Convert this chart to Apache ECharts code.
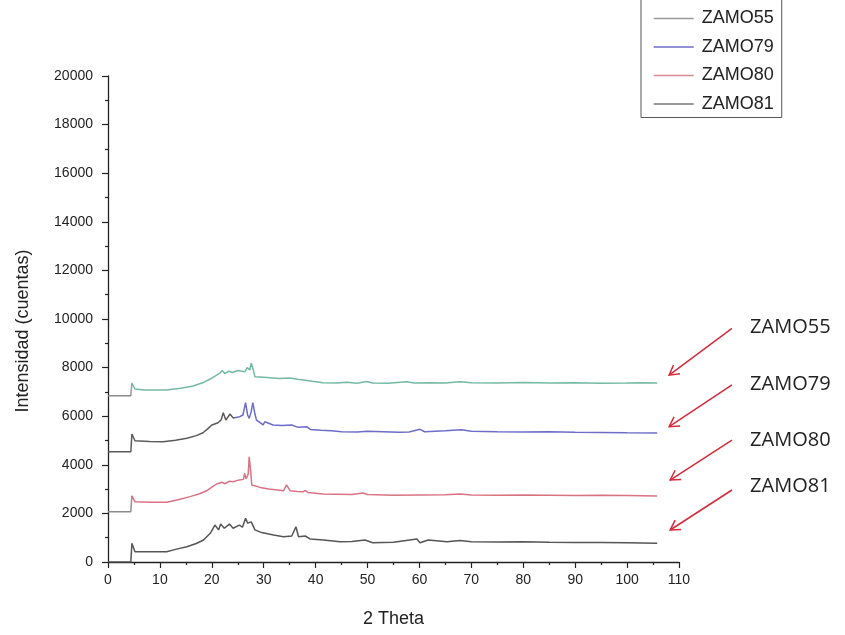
<!DOCTYPE html>
<html>
<head>
<meta charset="utf-8">
<script src="https://cdn.jsdelivr.net/npm/echarts@6/dist/echarts.min.js"></script>
<style>
  html, body { margin: 0; padding: 0; background: #fff; }
  #chart { width: 845px; height: 635px; }
</style>
</head>
<body>
<div id="chart"></div>
<script>
// XRD patterns (2θ in degrees, intensity in counts), each sample offset vertically
const seriesNames = ['ZAMO55', 'ZAMO79', 'ZAMO80', 'ZAMO81'];

const theta55 = [0, 4.4, 4.6, 5.2, 7, 11.3, 14, 16.4, 18.5, 19.7, 21, 21.6, 22.0, 22.5, 23.3, 24, 25, 26.4, 26.8, 27.3, 27.6, 28.0, 28.3, 30, 31.8, 33, 35, 36.5, 38, 38.3, 39, 41.4, 44, 46, 48, 49.8, 51, 54, 57.5, 59, 62, 65, 67.8, 70, 75, 80, 85, 90, 95, 100, 103, 105.8];
const int55 = [6840, 6840, 7360, 7120, 7080, 7080, 7150, 7240, 7400, 7530, 7700, 7780, 7880, 7760, 7850, 7800, 7880, 7830, 8000, 7900, 8180, 7900, 7620, 7600, 7570, 7550, 7570, 7520, 7480, 7540, 7450, 7380, 7370, 7400, 7360, 7430, 7370, 7360, 7420, 7370, 7380, 7370, 7420, 7380, 7370, 7390, 7370, 7380, 7360, 7370, 7380, 7370];

const theta79 = [0, 4.4, 4.6, 5.2, 8, 10.6, 13, 15.2, 17, 18.3, 19.2, 20, 21.2, 21.8, 22.2, 22.7, 23.5, 24.1, 25.4, 26.0, 26.5, 26.9, 27.2, 27.6, 27.9, 28.3, 28.6, 29.9, 30.2, 31.8, 33.5, 35.4, 35.7, 36.5, 38.3, 39, 41, 43, 45, 48, 50, 53, 56, 58, 60.1, 61, 63, 65, 68.1, 70, 75, 80, 85, 90, 95, 100, 105.8];
const int79 = [4540, 4540, 5270, 4990, 4960, 4950, 5010, 5090, 5200, 5320, 5480, 5640, 5730, 5850, 6140, 5840, 6090, 5930, 5980, 6050, 6560, 6050, 5910, 6200, 6560, 6100, 5840, 5640, 5770, 5640, 5620, 5640, 5620, 5550, 5570, 5450, 5420, 5400, 5360, 5350, 5380, 5360, 5340, 5350, 5460, 5360, 5380, 5400, 5440, 5380, 5360, 5350, 5360, 5340, 5330, 5320, 5310];

const theta80 = [0, 4.4, 4.6, 5.2, 8, 11.3, 13.5, 15.8, 17.5, 19, 20, 20.9, 22, 22.5, 23.3, 24.1, 25, 26.1, 26.3, 26.6, 27.0, 27.2, 27.5, 27.7, 29.3, 31, 33.8, 34.4, 35.1, 36.5, 37.6, 38, 38.5, 41.4, 44, 47, 49.1, 50, 55, 60, 65, 67.8, 70, 75, 80, 85, 90, 95, 100, 105.8];
const int80 = [2070, 2070, 2720, 2480, 2460, 2460, 2560, 2690, 2800, 2930, 3080, 3210, 3280, 3220, 3320, 3300, 3360, 3400, 3650, 3420, 3600, 4330, 3700, 3170, 3070, 3000, 2930, 3170, 2930, 2900, 2890, 2950, 2860, 2800, 2790, 2780, 2840, 2780, 2750, 2760, 2770, 2800, 2760, 2750, 2760, 2750, 2740, 2750, 2740, 2720];

const theta81 = [0, 4.4, 4.6, 5.2, 8, 11.3, 13, 15.2, 17, 18.4, 19.7, 20.6, 21.3, 21.7, 22.4, 23.4, 24.1, 25.3, 25.9, 26.5, 26.9, 27.2, 27.6, 28.3, 29.6, 31.9, 33.8, 35.4, 36.2, 36.7, 38, 38.9, 41.5, 44.7, 47, 49.5, 51, 55, 59.5, 60.1, 61.7, 65.3, 67.8, 70, 75, 80, 85, 90, 95, 100, 105.8];
const int81 = [0, 0, 770, 420, 420, 420, 520, 630, 760, 905, 1180, 1520, 1320, 1560, 1390, 1560, 1390, 1520, 1430, 1800, 1600, 1590, 1650, 1320, 1210, 1110, 1040, 1070, 1450, 1040, 1070, 950, 905, 835, 840, 905, 795, 810, 950, 795, 905, 835, 880, 830, 820, 830, 810, 800, 800, 790, 770];

const xTicks = { min: 0, max: 110, step: 10 };
const yTicks = { min: 0, max: 20000, step: 2000 };

// Trace colours: [lead-in colour, trace colour, 2θ where the trace colour begins]
const traceColors = [
  ['#8c8c8c', '#74b9a4', 4.5],
  ['#5a5a5a', '#6d6cc6', 24.5],
  ['#8c8c8c', '#d97383', 4.5],
  ['#555555', '#555555', 4.5]
];
const legendColors = ['#9a9a9a', '#6d6cc6', '#d98a92', '#7a7a7a'];

// Callout arrows (data space: tail -> tip) and their labels
const calloutTail = [[120.2, 9617], [120.2, 7284], [120.2, 5020], [120.2, 2963]];
const calloutTip = [[108.1, 7690], [108.1, 5568], [108.3, 3374], [108.3, 1317]];
const calloutLabel = [[123.7, 9660], [123.7, 7320], [123.7, 5020], [123.7, 3100]];

const zip = (xs, ys) => xs.map((x, i) => [x, ys[i]]);
const seriesData = [zip(theta55, int55), zip(theta79, int79), zip(theta80, int80), zip(theta81, int81)];

const chart = echarts.init(document.getElementById('chart'));
const axisFont = 'Liberation Sans, Arial, sans-serif';

chart.setOption({
  backgroundColor: '#ffffff',
  animation: false,
  grid: { left: 108, right: 166, top: 76, bottom: 73, containLabel: false },
  legend: {
    orient: 'vertical',
    left: 641,
    top: -20,
    padding: [28.5, 8, 3.5, 12],
    itemWidth: 40,
    itemHeight: 14,
    itemGap: 8.5,
    borderColor: '#555',
    borderWidth: 1,
    textStyle: { fontFamily: axisFont, fontSize: 18, color: '#222', lineHeight: 20, padding: [0, 0, 0, 3] },
    data: seriesNames.map((n, i) => ({
      name: n,
      itemStyle: { opacity: 0 },
      lineStyle: { color: legendColors[i], width: 1.4 }
    }))
  },
  xAxis: {
    type: 'value',
    min: xTicks.min, max: xTicks.max, interval: xTicks.step,
    name: '2 Theta',
    nameLocation: 'middle',
    nameGap: 48,
    nameTextStyle: { fontFamily: axisFont, fontSize: 18, color: '#222' },
    axisLine: { show: true, lineStyle: { color: '#222', width: 1.3 } },
    axisTick: { show: true, length: 6, lineStyle: { color: '#222', width: 1.2 } },
    minorTick: { show: true, splitNumber: 2, length: 3, lineStyle: { color: '#222', width: 1.2 } },
    axisLabel: { fontFamily: axisFont, fontSize: 14, color: '#222', margin: 11, formatter: v => String(v) },
    splitLine: { show: false }
  },
  yAxis: {
    type: 'value',
    min: yTicks.min, max: yTicks.max, interval: yTicks.step,
    name: 'Intensidad (cuentas)',
    nameLocation: 'middle',
    nameGap: 76,
    nameTextStyle: { fontFamily: axisFont, fontSize: 18, color: '#222', padding: [0, 24, 0, 0] },
    axisLine: { show: true, lineStyle: { color: '#222', width: 1.3 } },
    axisTick: { show: true, length: 6, lineStyle: { color: '#222', width: 1.2 } },
    minorTick: { show: true, splitNumber: 2, length: 3, lineStyle: { color: '#222', width: 1.2 } },
    axisLabel: { fontFamily: axisFont, fontSize: 14, color: '#222', margin: 15, formatter: v => String(v) },
    splitLine: { show: false }
  },
  visualMap: traceColors.map((c, i) => ({
    type: 'piecewise',
    show: false,
    dimension: 0,
    seriesIndex: i,
    pieces: [{ min: -50, max: c[2], color: c[0] }, { min: c[2], max: 500, color: c[1] }]
  })),
  series: seriesNames.map((n, i) => ({
    name: n,
    type: 'line',
    data: seriesData[i],
    symbol: 'none',
    smooth: false,
    lineStyle: { width: 1.5 },
    z: 2
  }))
});

// Red callout arrows with sample labels, placed through the grid's coordinate system
function buildCallouts() {
  const red = '#d42a3c';
  const els = [];
  calloutTail.forEach((tail, i) => {
    const a = chart.convertToPixel({ gridIndex: 0 }, tail);
    const b = chart.convertToPixel({ gridIndex: 0 }, calloutTip[i]);
    const dx = a[0] - b[0], dy = a[1] - b[1];
    const len = Math.hypot(dx, dy);
    const ux = dx / len, uy = dy / len;
    const hl = 11, ang = Math.PI / 6;
    const w1 = [b[0] + hl * (ux * Math.cos(ang) - uy * Math.sin(ang)), b[1] + hl * (ux * Math.sin(ang) + uy * Math.cos(ang))];
    const w2 = [b[0] + hl * (ux * Math.cos(-ang) - uy * Math.sin(-ang)), b[1] + hl * (ux * Math.sin(-ang) + uy * Math.cos(-ang))];
    els.push({ type: 'line', shape: { x1: a[0], y1: a[1], x2: b[0], y2: b[1] }, style: { stroke: red, lineWidth: 1.5 }, z: 10 });
    els.push({ type: 'polyline', shape: { points: [w1, b, w2] }, style: { stroke: red, lineWidth: 1.5, fill: null }, z: 10 });
    const p = chart.convertToPixel({ gridIndex: 0 }, calloutLabel[i]);
    els.push({
      type: 'text', x: p[0], y: p[1], z: 10,
      style: { text: seriesNames[i], fontFamily: 'Open Sans, Noto Sans, sans-serif', fontSize: 20, fill: '#222', align: 'left', verticalAlign: 'middle' }
    });
  });
  chart.setOption({ graphic: els });
}
buildCallouts();
</script>
</body>
</html>
